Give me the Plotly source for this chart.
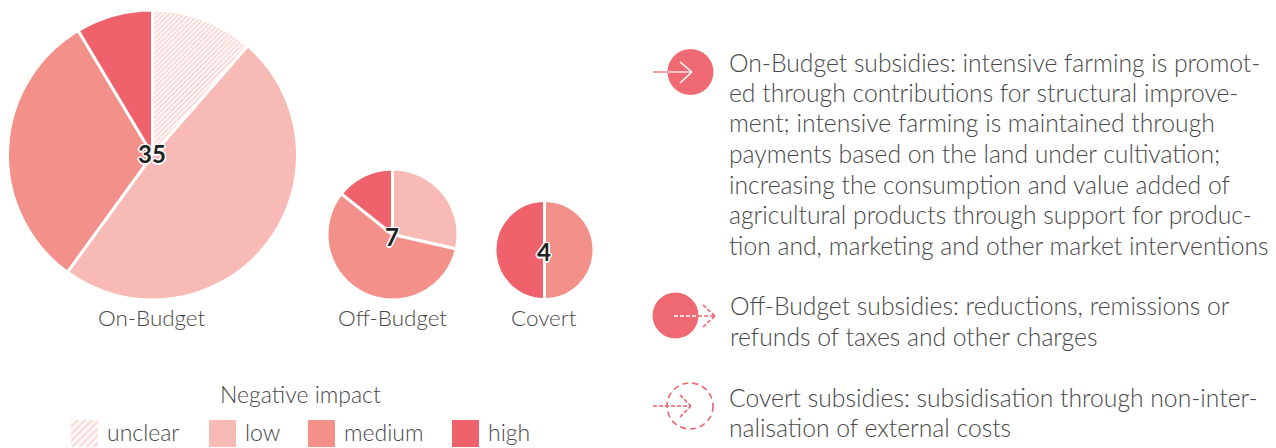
import plotly.graph_objects as go

W, H = 1276, 448
FONT = "Lato"
TEXT = "#484848"
SIZE_BODY = 24.7
SIZE_LABEL = 22.4
SIZE_LEGEND = 23

categories = ["unclear", "low", "medium", "high"]
colors = ["#f7bab5", "#f7bab5", "#f4908a", "#ef626c"]
patterns = ["/", "", "", ""]

on_budget = [4, 17, 11, 3]
off_budget = [0, 2, 4, 1]
covert = [0, 0, 2, 2]
pie_names = ["On-Budget", "Off-Budget", "Covert"]
pie_totals = ["35", "7", "4"]
legend_title = "Negative impact"

on_text = ["On-Budget subsidies: intensive farming is promot-",
           "ed through contributions for structural improve-",
           "ment; intensive farming is maintained through",
           "payments based on the land under cultivation;",
           "increasing the consumption and value added of",
           "agricultural products through support for produc-",
           "tion and, marketing and other market interventions"]
off_text = ["Off-Budget subsidies: reductions, remissions or",
            "refunds of taxes and other charges"]
covert_text = ["Covert subsidies: subsidisation through non-inter-",
               "nalisation of external costs"]

# layout, in pixels
pie_geo = [(152.5, 155, 145), (392.5, 234.5, 65.5), (544.5, 250, 49.5)]
swatch_x = [71, 209, 308, 452]
swatch_label_x = [105, 243, 342, 486]
swatch_y, swatch_size = 420, 27


def px(x):
    return x / W


def py(y):
    return 1 - y / H


fig = go.Figure()
for vals, name, (cx, cy, r) in zip([on_budget, off_budget, covert], pie_names, pie_geo):
    fig.add_trace(go.Pie(
        labels=categories, values=vals, name=name, sort=False, direction="clockwise",
        rotation=0, textinfo="none", hoverinfo="label+value", showlegend=False,
        domain=dict(x=[px(cx - r), px(cx + r)], y=[py(cy + r), py(cy - r)]),
        marker=dict(colors=colors, line=dict(color="white", width=3),
                    pattern=dict(shape=patterns, fgcolor="#f4a8a2", bgcolor="white",
                                 size=3.5, solidity=0.5, fillmode="overlay")),
    ))

ann = []


def label(x, y, text, anchor="left", size=SIZE_BODY, **kw):
    ann.append(dict(x=px(x), y=py(y), xref="paper", yref="paper", text=text, showarrow=False,
                    xanchor=anchor, yanchor="middle", align=anchor,
                    font=dict(family=FONT, size=size, color=kw.get("color", TEXT),
                              weight=kw.get("weight", 300), shadow=kw.get("shadow", "none"))))


halo = "1.5px 0 0 #fff,-1.5px 0 0 #fff,0 1.5px 0 #fff,0 -1.5px 0 #fff,1px 1px 0 #fff,-1px -1px 0 #fff,1px -1px 0 #fff,-1px 1px 0 #fff"
for name, total, (cx, cy, r) in zip(pie_names, pie_totals, pie_geo):
    label(cx - 0.5, 317, name, "center", size=SIZE_LABEL)
    label(cx - 0.5, cy - 1.5 if r > 100 else cy + 1.5, total, "center", size=24, color="#222222", weight=700, shadow=halo)

label(300, 394, legend_title, "center", size=SIZE_LEGEND)
for i, (cat, col, pat, sx, lx) in enumerate(zip(categories, colors, patterns, swatch_x, swatch_label_x)):
    label(lx, 432, cat, size=SIZE_LEGEND)
    n = i + 1
    fig.add_trace(go.Bar(x=[cat], y=[1], xaxis=f"x{n}", yaxis=f"y{n}", width=1, showlegend=False,
                         hoverinfo="skip", marker=dict(color=col, line_width=0,
                         pattern=dict(shape=pat, fgcolor="#f7bab5", bgcolor="white", size=5,
                                      solidity=0.55, fillmode="overlay"))))
    ax = dict(visible=False, fixedrange=True)
    fig.update_layout({
        f"xaxis{n}": dict(ax, domain=[px(sx), px(sx + swatch_size)], anchor=f"y{n}"),
        f"yaxis{n}": dict(ax, domain=[py(swatch_y + swatch_size), py(swatch_y)], anchor=f"x{n}", range=[0, 1]),
    })

for lines, x0, ys in [(on_text, 727, [62, 92.5, 123, 153.5, 184, 214.5, 245]),
                      (off_text, 727.5, [305, 336]),
                      (covert_text, 727, [397, 427])]:
    for line, y in zip(lines, ys):
        label(x0, y, line)

PINK = "#ef626c"
shapes = []


def circle(cx, cy, r, fill=None, dash="solid"):
    shapes.append(dict(type="circle", xref="paper", yref="paper", x0=px(cx - r), x1=px(cx + r),
                       y0=py(cy + r), y1=py(cy - r), fillcolor=fill or "rgba(0,0,0,0)",
                       line=dict(color=PINK, width=0 if fill else 1.6, dash=dash)))


def seg(x0, y0, x1, y1, color, dash="solid"):
    shapes.append(dict(type="line", xref="paper", yref="paper", x0=px(x0), x1=px(x1),
                       y0=py(y0), y1=py(y1), line=dict(color=color, width=1.6, dash=dash)))


DASH = "4px,2px"
circle(690.5, 72, 23, fill="#ef6a73")
seg(653, 72, 668, 72, "#f4908a")
seg(668, 72, 692, 72, "#fbdcdc")
seg(680, 62, 692, 72, "white")
seg(680, 83, 692, 72, "white")

circle(675.5, 315.5, 23, fill="#ef6a73")
seg(674, 316, 698, 316, "white", DASH)
seg(698, 316, 715, 316, PINK, DASH)
seg(703, 305, 715, 316, PINK, DASH)
seg(703, 327, 715, 316, PINK, DASH)

circle(690, 406, 23, dash="6px,4px")
seg(653, 406, 691, 406, PINK, DASH)
seg(680, 395, 691, 406, PINK, DASH)
seg(680, 417, 691, 406, PINK, DASH)

fig.update_layout(width=W, height=H, margin=dict(l=0, r=0, t=0, b=0), paper_bgcolor="white",
                  plot_bgcolor="white", annotations=ann, shapes=shapes)
fig.write_html("out.html", config=dict(displayModeBar=False),
               post_script="document.body.style.margin='0';document.documentElement.style.overflow='hidden';")
